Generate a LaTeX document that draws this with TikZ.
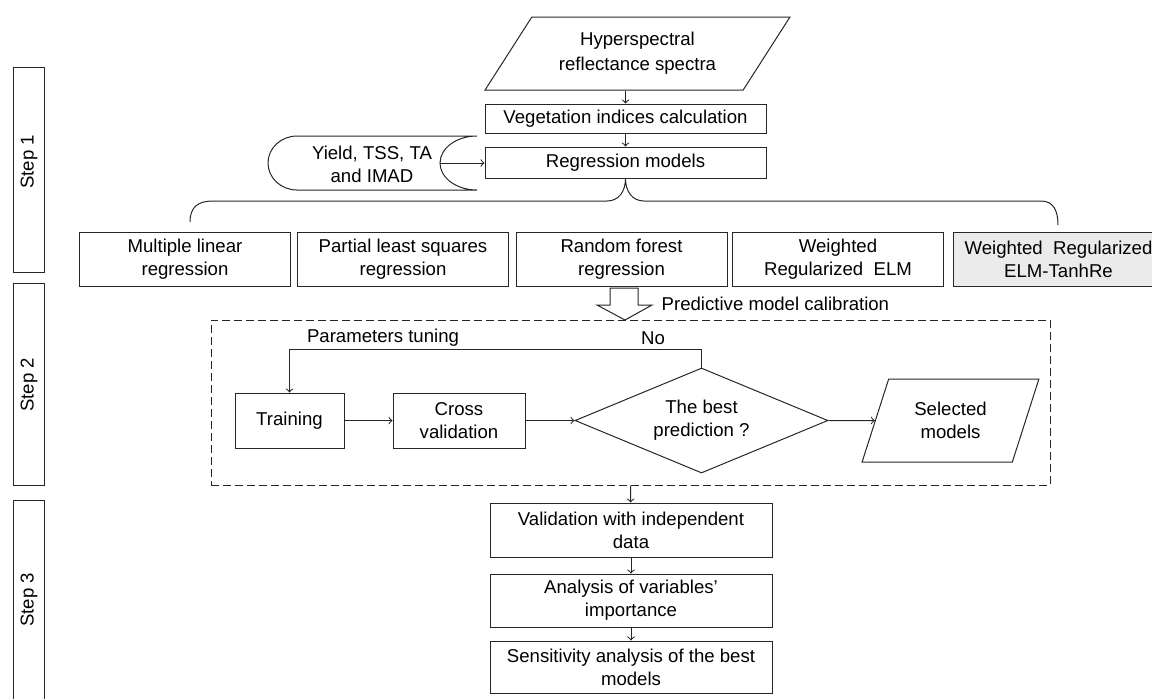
\documentclass[tikz,border=0pt]{standalone}
\usepackage{fontspec}
\setmainfont{Liberation Sans}
\usetikzlibrary{shapes.geometric}
\usetikzlibrary{calc}

\begin{document}
\begin{tikzpicture}[x=0.5pt,y=-0.5pt,line width=0.5pt,
    box/.style={rectangle, draw=black!85, inner sep=0pt, align=center},
    slanted/.style={trapezium, trapezium stretches=true, draw=black!85, inner sep=0pt, align=center},
    arr/.style={->, >=to, draw=black!85}]
    \tikzset{decision/.style={diamond, aspect=2.4, draw=black!85, inner sep=0pt, align=center}}
    \tikzset{stepbox/.style={draw=black!85}}
    \fontsize{9.3}{11.5}\selectfont
    \useasboundingbox (0,0) rectangle (1152,698);
    % steps on the left
    \foreach \n/\top/\bot/\ty in {1/67/272/162, 2/283/485/385, 3/500/706/600} {
    \draw[stepbox] (13,\top) rectangle (44,\bot);
    \node[rotate=90] (step\n) at (29,\ty) {Step \n};
    }
    % step 1
    \node[slanted, trapezium left angle=50.6, trapezium right angle=129.4, minimum width=152.5pt, minimum height=36.5pt] (hyper) at (637.5,53.5) {Hyperspectral\\[1pt]reflectance spectra};
    \node[box, minimum width=140.5pt, minimum height=14.5pt] (veg) at (625.5,118.5) {Vegetation indices calculation};
    \node[box, minimum width=140.5pt, minimum height=15.5pt] (regr) at (625.5,162.5) {Regression models};
    \draw[draw=black!85] (477,136) -- (297,136) arc[start angle=90, end angle=270, x radius=14.5pt, y radius=13.5pt]
        -- (477,190) arc[start angle=270, end angle=90, x radius=18.5pt, y radius=13.5pt];
    \node[align=center] (yield) at (372,164) {Yield, TSS, TA\\and IMAD};
    \coordinate (yieldout) at (440,163);
    \draw[arr] (veg.north |- hyper.south) -- (veg.north);
    \draw[arr] (veg) -- (regr);
    \draw[arr] (yieldout) -- (regr.west |- yieldout);
    % brace
    \draw[draw=black!85] (190,222) .. controls (190,207) and (198,201) .. (213,201) -- (607,201)
        .. controls (619,201) and (625.5,191) .. (regr.south)
        .. controls (625.5,191) and (632,201) .. (644,201) -- (1041,201)
        .. controls (1053,201) and (1058,210) .. (1058,225);
    % regression methods
    \foreach \x/\name/\txt in {185/mlr/{Multiple linear\\regression}, 403/plsr/{Partial least squares\\regression}, 621.5/rfr/{Random forest\\regression}, 838/wrelm/{Weighted\\Regularized~ ELM}} {
    \node[box, minimum width=105.5pt, minimum height=27pt] (\name) at (\x,259) {\txt};
    }
    \node[box, fill=black!8, minimum width=105.5pt, minimum height=27pt] (tanh) at (1058.5,259) {Weighted~ Regularized\\ELM-TanhRe};
    % step 2
    \draw[draw=black!85] (610,288) -- (638,288) -- (638,305) -- (652,305) -- (625,320) -- (597,305) -- (610,305) -- cycle;
    \node[anchor=west] (calibtxt) at (655,304) {Predictive model calibration};
    \node[draw=black!85, dash pattern=on 4pt off 2pt, minimum width=419.5pt, minimum height=82.5pt, inner sep=0pt] (calib) at (630.5,402.5) {};
    \node[box, minimum width=54.5pt, minimum height=27.5pt] (train) at (289.5,420.5) {Training};
    \node[box, minimum width=66pt, minimum height=27.5pt] (cross) at (459,420.5) {Cross\\validation};
    \node[decision, minimum width=126.5pt, minimum height=52.5pt] (best) at (701.5,420.5) {The best\\prediction ?};
    \node[slanted, trapezium left angle=67, trapezium right angle=113, minimum width=88.5pt, minimum height=41.5pt] (sel) at (950.5,420.5) {Selected\\models};
    \draw[arr] (train) -- (cross);
    \draw[arr] (cross) -- (best);
    \draw[arr] (best.east) -- (sel);
    \draw[arr] (best.north) -- ++(0,-18) -| (train.north);
    \node (tuning) at (383,338) {Parameters tuning};
    \node (no) at (653,338) {No};
    % step 3
    \node[box, minimum width=141pt, minimum height=27pt] (valid) at (631,530) {Validation with independent\\data};
    \node[box, minimum width=141pt, minimum height=26.5pt] (imp) at (631,600.5) {Analysis of variables'\\importance};
    \node[box, minimum width=141pt, minimum height=26pt] (sens) at (631,667) {Sensitivity analysis of the best\\models};
    \draw[arr] (calib.south) -- (valid);
    \draw[arr] (valid) -- (imp);
    \draw[arr] (imp) -- (sens);
\end{tikzpicture}
\end{document}
